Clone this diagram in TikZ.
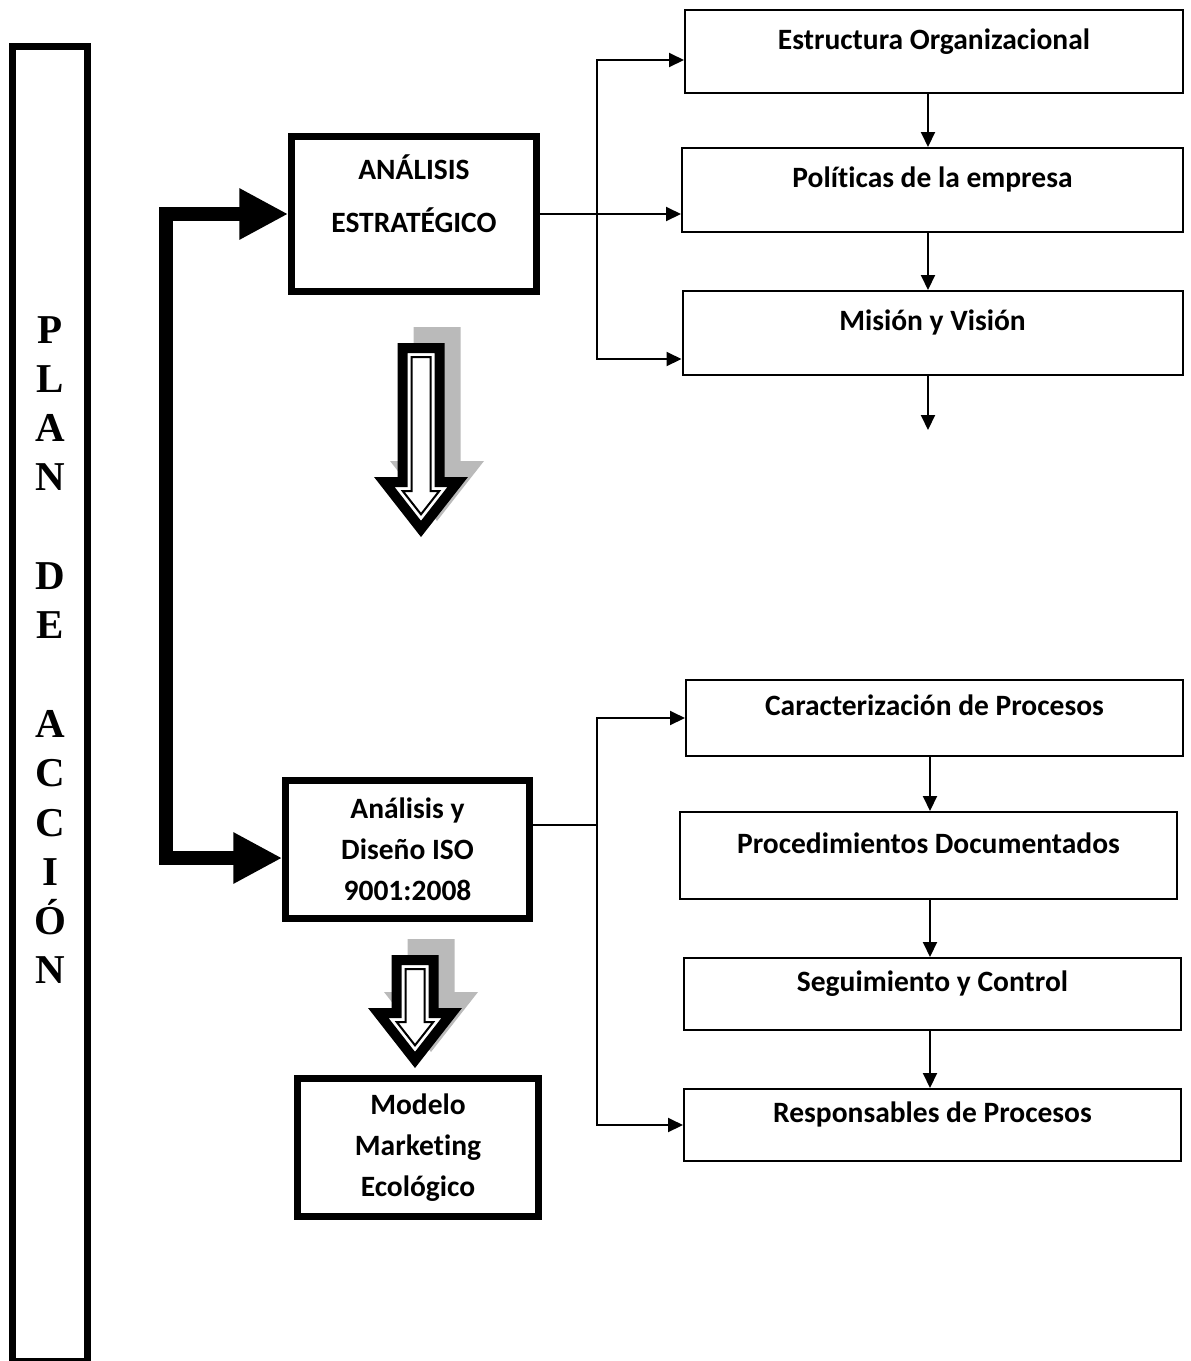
\documentclass[tikz,border=0pt]{standalone}
\usepackage{fontspec}
\setmainfont{Carlito}[Ligatures=NoCommon]
\newfontfamily\serifa{Liberation Serif}
\usepackage{tikz}
\usetikzlibrary{arrows.meta,positioning,calc}

\tikzset{
	caja/.style={draw, line width=2pt, inner sep=0pt, minimum width=497pt, font=\fontsize{29.5}{35}\selectfont\bfseries, text height=20pt, text depth=25pt},
	gruesa/.style={draw, line width=6.5pt, inner sep=0pt, align=center, font=\fontsize{29.5}{41}\selectfont\bfseries},
	barra/.style={draw, line width=7pt, minimum width=75pt, minimum height=1315.5pt},
	letras/.style={anchor=north, inner sep=0pt, align=center, font=\serifa\bfseries\fontsize{41}{49.3}\selectfont},
	flecha/.style={line width=2pt, -{Triangle[length=15pt,width=14pt]}},
	flechadoble/.style={line width=2pt, {Triangle[length=15pt,width=14pt]}-{Triangle[length=15pt,width=14pt]}},
	linea/.style={line width=2pt},
	flechagorda/.style={line width=14pt, line join=miter, {Triangle[length=49pt,width=48pt]}-{Triangle[length=49pt,width=48pt]}},
	sombra/.style={fill=black!27}
}

% flecha hueca hacia abajo: #1 = x, #2 = arriba, #3 = base de la punta
\newcommand{\flechahueca}[3]{
	\fill[sombra] (#1+16-23.5,#2-16) -- (#1+16+23.5,#2-16) -- (#1+16+23.5,#3-16) -- (#1+16+47,#3-16) -- (#1+16,#3+60-16) -- (#1+16-47,#3-16) -- (#1+16-23.5,#3-16) -- cycle;
	\filldraw[fill=white, draw=black, line width=10pt, line join=miter] (#1-18.5,#2+5) -- (#1+18.5,#2+5) -- (#1+18.5,#3+5) -- (#1+36.7,#3+5) -- (#1,#3+51.9) -- (#1-36.7,#3+5) -- (#1-18.5,#3+5) -- cycle;
	\draw[line width=2pt, line join=miter] (#1-9.5,#2+14) -- (#1+9.5,#2+14) -- (#1+9.5,#3+14) -- (#1+18.3,#3+14) -- (#1,#3+37.3) -- (#1-18.3,#3+14) -- (#1-9.5,#3+14) -- cycle;
}

\begin{document}
\begin{tikzpicture}[x=1pt,y=-1pt]
		\useasboundingbox (0,0) rectangle (1191,1361);
		% barra lateral
		\node[barra] (plan) at (50,703.75) {};
		\node[letras] (plantxt) at (50,316) {P\\L\\A\\N\\[49.3pt]D\\E\\[49.3pt]A\\C\\C\\I\\Ó\\N};
		% cajas gruesas
		\node[gruesa, minimum width=245pt, minimum height=155pt] (estrategico) at (414,214) {ANÁLISIS\\[12pt]ESTRATÉGICO\\ \mbox{}};
		\node[gruesa, minimum width=244pt, minimum height=138pt] (iso) at (407.5,849.5) {Análisis y\\Diseño ISO\\9001:2008};
		\node[gruesa, minimum width=241pt, minimum height=138pt] (modelo) at (418,1147.5) {Modelo\\Marketing\\Ecológico};
		% cajas de la derecha
		\node[caja, minimum width=498pt, minimum height=83pt] (estructura) at (934,51.5) {Estructura Organizacional};
		\node[caja, minimum width=501pt, minimum height=84pt] (politicas) [below=53pt of estructura, xshift=-1.5pt] {Políticas de la empresa};
		\node[caja, minimum width=500pt, minimum height=84pt] (mision) [below=57pt of politicas] {Misión y Visión};
		\node[caja, minimum height=76pt] (caracterizacion) at (934.5,718) {Caracterización de Procesos};
		\node[caja, minimum height=87pt] (procedimientos) [below=54pt of caracterizacion, xshift=-6pt] {Procedimientos Documentados};
		\node[caja, minimum height=72pt] (seguimiento) [below=57pt of procedimientos, xshift=4pt] {Seguimiento y Control};
		\node[caja, minimum height=72pt] (responsables) [below=57pt of seguimiento] {Responsables de Procesos};
		% flecha gruesa
		\coordinate (codo1) at (165.5,214);
		\coordinate (codo2) at (165.5,858);
		\draw[flechagorda] (estrategico.west) -- (codo1) -- (codo2) -- (codo2 -| iso.west);
		% flechas huecas
		\flechahueca{421}{343}{477}
		\flechahueca{415}{955}{1008}
		% conectores
		\coordinate (ejeA) at (928,0);
		\coordinate (ejeB) at (930,0);
		\draw[flecha] (estructura.south -| ejeA) -- (politicas.north -| ejeA);
		\draw[flecha] (politicas.south -| ejeA) -- (mision.north -| ejeA);
		\draw[flecha] (mision.south -| ejeA) -- ++(0,54);
		\draw[flecha] (caracterizacion.south -| ejeB) -- (procedimientos.north -| ejeB);
		\draw[flecha] (procedimientos.south -| ejeB) -- (seguimiento.north -| ejeB);
		\draw[flecha] (seguimiento.south -| ejeB) -- (responsables.north -| ejeB);
		\coordinate (llaveA) at (597,213);
		\draw[flechadoble] ([yshift=-8.5pt]estructura.west) -| (llaveA) |- ([yshift=-26pt]mision.west);
		\draw[flecha] (estrategico.east) -- (estrategico.east -| politicas.west);
		\coordinate (llaveB) at (597,825);
		\draw[flechadoble] (caracterizacion.west) -| (llaveB) |- (responsables.west);
		\draw[linea] (llaveB) -- (llaveB -| iso.east);
\end{tikzpicture}
\end{document}
